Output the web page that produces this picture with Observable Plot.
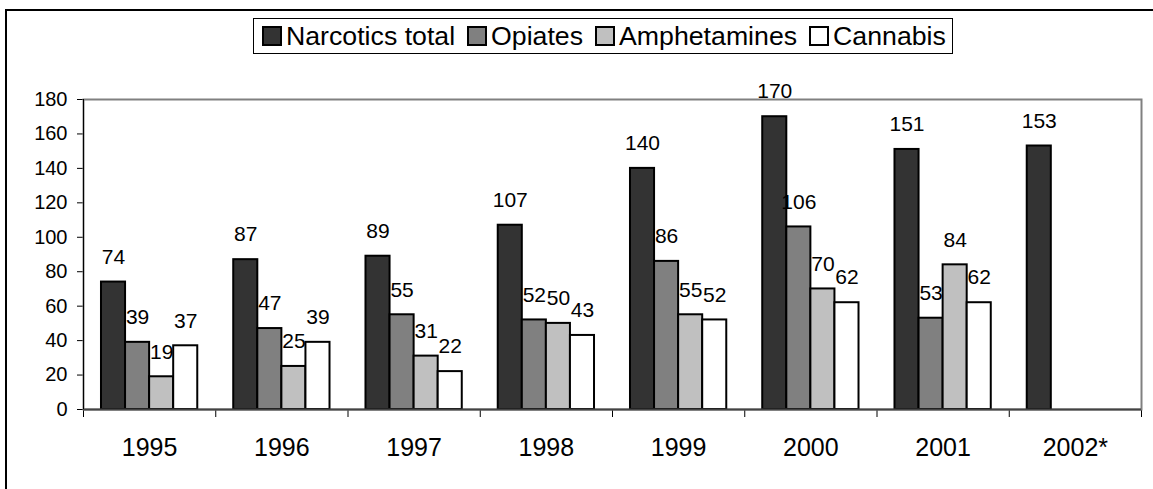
<!DOCTYPE html>
<html>
<head>
<meta charset="utf-8">
<script src="https://cdn.jsdelivr.net/npm/d3@7"></script>
<script src="https://cdn.jsdelivr.net/npm/@observablehq/plot@0.6"></script>
<style>
  html, body { margin: 0; padding: 0; background: #fff; overflow: hidden; }
  #wrap { position: relative; width: 1153px; height: 489px; overflow: hidden; font-family: "Liberation Sans", Arial, sans-serif; }
  #outer { position: absolute; left: 5px; top: 9px; width: 1300px; height: 700px; border-top: 2px solid #000; border-left: 2px solid #000; }
  #chart { position: absolute; left: 0; top: 0; }
  #chart g[aria-label="y-axis tick label"] text { font-size: 20px !important; }
  #legend { position: absolute; left: 253px; top: 18px; height: 34px; border: 1.5px solid #000; background: #fff;
            display: flex; align-items: center; padding: 0 6px 0 8px; font-size: 26.7px; color: #000; white-space: nowrap; }
  .item { display: flex; align-items: center; margin-right: 12px; }
  .item:last-child { margin-right: 0; }
  .sw { width: 16px; height: 16px; border: 2px solid #000; margin-right: 4px; box-sizing: content-box; }
</style>
</head>
<body>
<div id="wrap">
  <div id="outer"></div>
  <div id="chart"></div>
  <div id="legend"></div>
</div>
<script>
const years = ["1995", "1996", "1997", "1998", "1999", "2000", "2001", "2002*"];
const seriesNames = ["Narcotics total", "Opiates", "Amphetamines", "Cannabis"];
const narcoticsTotal = [74, 87, 89, 107, 140, 170, 151, 153];
const opiates = [39, 47, 55, 52, 86, 106, 53, null];
const amphetamines = [19, 25, 31, 50, 55, 70, 84, null];
const cannabis = [37, 39, 22, 43, 52, 62, 62, null];
const seriesColors = ["#333333", "#808080", "#c0c0c0", "#ffffff"];
const yTicks = [0, 20, 40, 60, 80, 100, 120, 140, 160, 180];

const seriesValues = [narcoticsTotal, opiates, amphetamines, cannabis];
const barW = 0.182;
const groupPad = (1 - 4 * barW) / 2;

const rows = [];
years.forEach((yr, i) => {
  seriesValues.forEach((vals, j) => {
    if (vals[i] != null) rows.push({year: yr, yi: i, si: j, series: seriesNames[j], value: vals[i]});
  });
});
const bx1 = d => d.yi + groupPad + d.si * barW;
const bx2 = d => d.yi + groupPad + (d.si + 1) * barW;
const bxc = d => d.yi + groupPad + (d.si + 0.5) * barW;

const chart = Plot.plot({
  width: 1153,
  height: 489,
  marginLeft: 83,
  marginRight: 12,
  marginTop: 99,
  marginBottom: 80,
  style: {fontFamily: "Liberation Sans, Arial, sans-serif", fontSize: "20px", color: "#000", background: "transparent"},
  x: {domain: [0, years.length], ticks: d3.range(0, years.length + 1), tickFormat: () => "", tickSize: 8, label: null},
  y: {domain: [0, 180], ticks: yTicks, tickSize: 6, tickPadding: 10, label: null},
  color: {domain: seriesNames, range: seriesColors},
  marks: [
    Plot.frame({stroke: "#808080", strokeWidth: 2}),
    Plot.rect(rows, {x1: bx1, x2: bx2, y1: 0, y2: "value", fill: "series", stroke: "#000", strokeWidth: 2}),
    Plot.ruleY([0], {stroke: "#444", strokeWidth: 2}),
    Plot.ruleX([0], {stroke: "#000", strokeWidth: 1}),
    Plot.text(rows, {x: bxc, y: "value", text: d => String(d.value), dy: -25, lineAnchor: "middle", fontSize: 21, fill: "#000"}),
    Plot.text(years, {x: (d, i) => i + 0.5, frameAnchor: "bottom", text: d => d, dy: 38, lineAnchor: "middle", fontSize: 25, fill: "#000"})
  ]
});
document.getElementById("chart").appendChild(chart);

const legend = document.getElementById("legend");
seriesNames.forEach((name, j) => {
  const it = document.createElement("div");
  it.className = "item";
  const sw = document.createElement("div");
  sw.className = "sw";
  sw.style.background = seriesColors[j];
  const tx = document.createElement("span");
  tx.textContent = name;
  it.appendChild(sw);
  it.appendChild(tx);
  legend.appendChild(it);
});
</script>
</body>
</html>
